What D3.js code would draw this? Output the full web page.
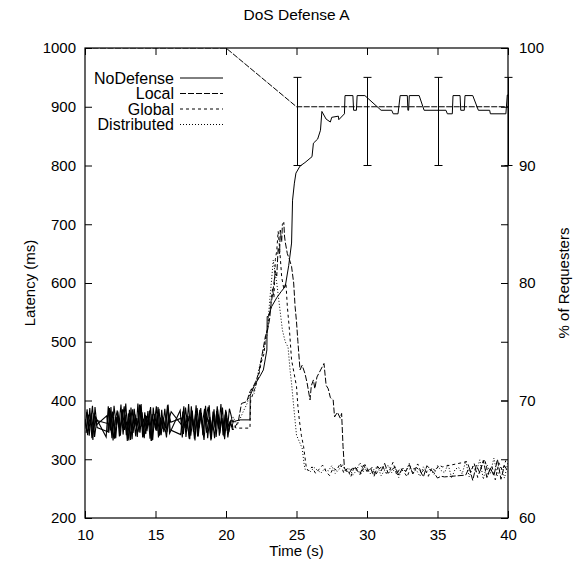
<!DOCTYPE html>
<html><head><meta charset="utf-8">
<script src="https://cdn.jsdelivr.net/npm/d3@7"></script>
<style>
body{margin:0;background:#fff}
text{font-family:"Liberation Sans",Arial,Helvetica,sans-serif;fill:#000}
</style>
</head><body>
<svg id="c" width="579" height="569"></svg>
<script>
// ---------- data ----------
const chartTitle = "DoS Defense A";
const xTicks = [10, 15, 20, 25, 30, 35, 40];
const yTicks = [200, 300, 400, 500, 600, 700, 800, 900, 1000];
const y2Ticks = [60, 70, 80, 90, 100];
const seriesNames = ["NoDefense", "Local", "Global", "Distributed"];

// steady-state latency samples before the attack (ms), 0.15 s apart
const noiseStep = 0.15;
const noiseStarts = [10.0, 10.04, 10.08, 10.11]; // first sample time of each series
const noDefenseNoise = [352,385,340,378,347,372,null,null,null,null,
  338,390,349,381,335,372,356,393,342,376,331,384,350,369,339,395,345,380,336,374,358,389,333,377,348,386,341,371,353,392,344,
  null,null,null,null,
  383,337,375,351,394,340,368,332,387,354,379,343,391,336,372,349,385,338,376,357,388,334,370,346,366];
const localNoise = [368,341,387,336,379,358,null,null,null,null,
  374,345,389,332,366,383,339,377,351,395,343,371,334,386,355,364,392,337,380,348,369,331,388,353,375,340,384,346,361,393,350,
  null,null,null,null,
  342,381,353,370,335,390,347,377,339,384,360,333,373,389,344,367,336,382,352,394,341,376,348,386,372];
const globalNoise = [345,376,359,391,338,366,null,null,null,null,
  361,387,344,372,336,381,352,367,390,341,378,333,385,357,370,346,394,338,375,355,383,331,368,349,389,342,374,360,337,380,363,
  null,null,null,null,
  370,343,388,356,334,379,350,392,339,373,361,386,345,368,332,381,354,390,340,371,348,384,337,362,355];
const distributedNoise = [380,349,371,333,389,354,null,null,null,null,
  347,379,336,391,358,373,340,385,350,364,332,388,345,376,338,393,356,369,343,382,335,377,359,390,337,371,352,386,346,368,381,
  null,null,null,null,
  358,390,338,374,346,383,335,369,352,387,341,377,363,392,334,375,350,385,344,370,339,381,356,365,350];

// attack phase (time s, latency ms)
const noDefenseTime = [20.5,21.0,21.7,21.72,22.0,22.4,22.65,22.9,22.92,23.0,23.24,23.6,23.9,24.2,24.45,24.65,24.72,24.85,24.96,25.25,
  25.6,26.1,26.2,26.5,26.7,26.8,27.1,27.4,27.5,27.97,28.0,28.4,28.44,29.0,29.05,29.25,29.3,29.85,31.0,31.75,
  31.86,32.2,32.35,32.86,32.9,32.95,33.0,33.7,34.05,35.6,35.7,36.05,36.1,36.6,36.65,36.9,36.95,37.5,37.9,38.7,
  38.75,39.85,39.95,40.0];
const noDefenseLatency = [364,367,367,409,425,441,452,486,543,543,560,575,585,594,630,668,741,770,787,799,
  805,815,838,845,860,892,879,874,882,884,878,888,919,919,894,894,919,919,894,894,
  888,888,919,919,894,894,919,919,894,894,888,888,919,919,894,894,919,919,894,894,
  888,888,920,920];
const localTime = [20.5,20.87,21.1,21.47,21.7,21.9,22.1,22.3,22.5,22.65,22.8,22.95,23.1,23.2,23.3,23.4,23.5,23.6,23.7,23.8,
  23.85,23.95,24.0,24.1,24.15,24.2,24.35,24.5,24.65,24.8,24.9,25.0,25.1,25.25,25.4,25.6,25.75,25.96,26.05,26.2,
  26.3,26.45,26.95,27.1,27.25,27.4,27.6,27.7,27.9,28.1,28.2,28.3,28.4];
const localLatency = [350,364,395,398,415,422,432,445,470,490,510,520,540,565,580,600,620,612,660,650,
  690,670,700,703,680,670,650,640,628,600,560,534,500,452,460,446,430,401,425,435,
  420,440,463,426,420,405,401,372,380,370,378,322,285];
const globalTime = [20.5,20.7,21.7,21.75,22.1,22.3,22.5,22.7,22.8,23.0,23.1,23.3,23.4,23.5,23.6,23.7,23.8,23.95,24.1,24.25,
  24.35,24.5,24.65,24.8,25.0,25.1,25.2,25.35,25.5,25.7];
const globalLatency = [366,353,353,400,425,440,465,480,505,530,550,590,575,640,655,688,660,610,590,600,
  560,520,469,450,424,390,367,340,322,285];
const distributedTime = [20.5,20.8,21.2,21.5,21.8,22.0,22.3,22.6,22.9,23.1,23.25,23.35,23.5,23.6,23.8,24.0,24.2,24.4,24.55,24.65,
  24.8,25.0,25.2,25.4,25.55,25.6];
const distributedLatency = [372,358,380,395,420,412,450,480,510,570,610,639,615,600,560,520,500,491,450,429,
  390,341,330,319,290,283];

// recovered latency samples (ms), 0.25 s apart
const tailStep = 0.25;
const localTailStart = 28.5;
const localTail = [281,277,286,283,274,290,279,285,271,288,280,293,276,282,287,273,284,279,291,275,
  286,281,270,289,283,277,268,271,270,null,null,null,null,null,273,286,264,290,277,298,
  269,285,272,300,266,289,279];
const globalTailStart = 25.85;
const globalTail = [280,287,276,283,290,279,272,285,281,293,277,284,270,288,282,275,291,279,286,273,
  283,289,276,281,295,274,285,279,270,287,283,292,277,284,271,286,280,290,287,null,
  null,null,null,null,null,296,278,293,269,287,300,274,289,265,294,281,298];
const distributedTailStart = 25.75;
const distributedTail = [283,279,286,281,277,284,280,289,276,282,291,278,285,273,281,294,279,286,275,283,
  288,272,281,290,277,284,269,286,280,293,276,282,271,287,279,284,274,289,281,277,
  292,268,283,286,275,297,270,288,279,299,266,291,276,302,272,287,268,295];

// % of requesters (right axis)
const pctTime = [10, 20, 25, 30, 35, 40];
const pctValue = [100, 100, 95, 95, 95, 95];
const errTime = [25, 30, 35, 40];
const errLow = [90, 90, 90, 90];
const errHigh = [97.5, 97.5, 97.5, 97.5];

// ---------- drawing ----------
const L = 85, R = 508, T = 48, B = 518;
const FONT = 15;
const svg = d3.select("#c");
const x = d3.scaleLinear().domain([10, 40]).range([L, R]);
const y = d3.scaleLinear().domain([200, 1000]).range([B, T]);
const y2 = d3.scaleLinear().domain([60, 100]).range([B, T]);

function noisePts(noise, start) {
  const pts = [];
  noise.forEach((v, i) => { if (v != null) pts.push([start + i * noiseStep, v]); });
  return pts;
}
function restPts(kt, kv, tailStart, tail) {
  const pts = kt.map((t, i) => [t, kv[i]]);
  if (tail) tail.forEach((v, i) => { if (v != null) pts.push([tailStart + i * tailStep, v]); });
  return pts;
}
const noiseData = [noDefenseNoise, localNoise, globalNoise, distributedNoise]
  .map((n, k) => noisePts(n, noiseStarts[k]));
const restData = [
  restPts(noDefenseTime, noDefenseLatency, 0, null),
  restPts(localTime, localLatency, localTailStart, localTail),
  restPts(globalTime, globalLatency, globalTailStart, globalTail),
  restPts(distributedTime, distributedLatency, distributedTailStart, distributedTail)
];
const dashes = [null, "6,2", "3,3", "1,2"];

svg.append("defs").append("clipPath").attr("id", "clip")
  .append("rect").attr("x", L).attr("y", T).attr("width", R - L).attr("height", B - T);
const plot = svg.append("g").attr("clip-path", "url(#clip)");

// percent line
const pLine = d3.line().x(d => x(d[0])).y(d => y2(d[1]));
plot.append("path").datum(pctTime.map((t, i) => [t, pctValue[i]]))
  .attr("d", pLine).attr("fill", "none").attr("stroke", "#000").attr("stroke-width", 1)
  .attr("stroke-dasharray", "6,1.5");

// error bars
const eb = svg.append("g").attr("stroke", "#000").attr("stroke-width", 1);
errTime.forEach((t, i) => {
  const xx = Math.round(x(t)) + 0.5;
  eb.append("line").attr("x1", xx).attr("x2", xx).attr("y1", y2(errLow[i])).attr("y2", y2(errHigh[i]));
  [errLow[i], errHigh[i]].forEach(v => {
    eb.append("line").attr("x1", xx - 4).attr("x2", xx + 4).attr("y1", y2(v)).attr("y2", y2(v));
  });
});

// latency lines
const line = d3.line().x(d => x(d[0])).y(d => y(d[1]));
restData.forEach((pts, k) => {
  const full = [noiseData[k][noiseData[k].length - 1]].concat(pts);
  plot.append("path").datum(full).attr("d", line)
    .attr("fill", "none").attr("stroke", "#000").attr("stroke-width", 1)
    .attr("stroke-dasharray", dashes[k]);
});
noiseData.forEach((pts) => {
  plot.append("path").datum(pts).attr("d", line)
    .attr("fill", "none").attr("stroke", "#000").attr("stroke-width", 1.1);
});

// axes
function styleAxis(g) {
  g.attr("font-size", FONT).attr("font-family", '"Liberation Sans",Arial,sans-serif');
  g.select(".domain").remove();
  g.selectAll(".tick line").attr("stroke", "#000");
}
svg.append("g").attr("transform", `translate(0,${B})`)
  .call(d3.axisBottom(x).tickValues(xTicks).tickSize(-7).tickPadding(11).tickFormat(d3.format("d")))
  .call(styleAxis);
svg.append("g").attr("transform", `translate(0,${T})`)
  .call(d3.axisTop(x).tickValues(xTicks).tickSize(-7).tickFormat(""))
  .call(styleAxis);
svg.append("g").attr("transform", `translate(${L},0)`)
  .call(d3.axisLeft(y).tickValues(yTicks).tickSize(-7).tickPadding(9).tickFormat(d3.format("d")))
  .call(styleAxis);
svg.append("g").attr("transform", `translate(${R},0)`)
  .call(d3.axisRight(y).tickValues(yTicks).tickSize(-7).tickFormat(""))
  .call(styleAxis);
svg.append("g").attr("transform", `translate(${R},0)`)
  .call(d3.axisRight(y2).tickValues(y2Ticks).tickSize(-7).tickPadding(11).tickFormat(d3.format("d")))
  .call(styleAxis);

// frame
svg.append("rect").attr("x", L).attr("y", T).attr("width", R - L).attr("height", B - T)
  .attr("fill", "none").attr("stroke", "#000").attr("stroke-width", 1.2);

// titles
svg.append("text").attr("x", (L + R) / 2).attr("y", 20).attr("text-anchor", "middle")
  .attr("font-size", 15.5).text(chartTitle);
svg.append("text").attr("x", (L + R) / 2).attr("y", 556).attr("text-anchor", "middle")
  .attr("font-size", FONT).text("Time (s)");
svg.append("text").attr("transform", `translate(35,${(T + B) / 2}) rotate(-90)`).attr("text-anchor", "middle")
  .attr("font-size", FONT).text("Latency (ms)");
svg.append("text").attr("transform", `translate(569,${(T + B) / 2}) rotate(-90)`).attr("text-anchor", "middle")
  .attr("font-size", FONT).text("% of Requesters");

// legend
const lg = svg.append("g");
seriesNames.forEach((n, i) => {
  const yy = 78 + i * 15.5;
  lg.append("text").attr("x", 174).attr("y", yy + 5.5).attr("text-anchor", "end")
    .attr("font-size", 16).text(n);
  lg.append("line").attr("x1", 180).attr("x2", 223).attr("y1", yy).attr("y2", yy)
    .attr("stroke", "#000").attr("stroke-width", 1).attr("stroke-dasharray", dashes[i]);
});
</script>
</body></html>
